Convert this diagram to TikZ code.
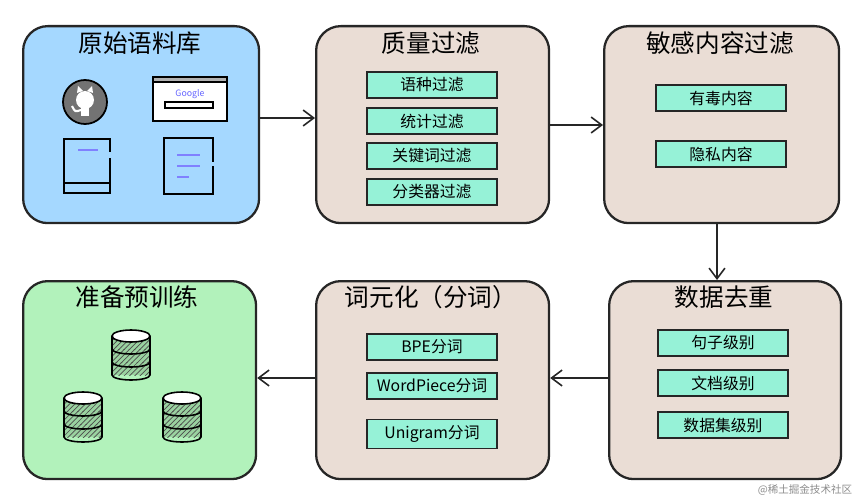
\documentclass[tikz,border=0pt]{standalone}
\usepackage{fontspec}
\setmainfont{Noto Sans CJK SC}
\usetikzlibrary{positioning, arrows.meta, patterns, calc}
\definecolor{srcBlue}{RGB}{165, 216, 255}
\definecolor{stepBeige}{RGB}{234, 221, 213}
\definecolor{doneGreen}{RGB}{178, 242, 187}
\definecolor{itemTeal}{RGB}{150, 242, 215}
\definecolor{dbGreen}{RGB}{110, 190, 120}

\tikzset{
    stage/.style={draw=black!85, line width=1.3pt, rounded corners=14pt, anchor=north west},
    title/.style={font=\fontsize{14}{16}\selectfont, anchor=center},
    item/.style={draw=black!85, line width=0.9pt, fill=itemTeal, minimum width=2.6cm, minimum height=0.52cm, font=\fontsize{9}{10}\selectfont},
    flow/.style={-{Straight Barb[length=6pt,width=9pt]}, line width=0.9pt, black!85}
}
% a stack of three discs, #1 is the centre of its top
\newcommand{\dbstack}[1]{%
    \foreach \k in {2,1,0} {
        \fill[dbGreen!70] ($(#1)+(-19,13*\k)$) rectangle ($(#1)+(19,13*\k+13)$);
        \fill[pattern=north east lines, pattern color=black!70] ($(#1)+(-19,13*\k)$) rectangle ($(#1)+(19,13*\k+13)$);
        \draw[line width=0.9pt] ($(#1)+(-19,13*\k)$) -- ++(0,13) arc[start angle=180,end angle=360,x radius=19,y radius=-5] -- ++(0,-13);
    }
    \draw[line width=0.9pt, fill=white] (#1) ellipse[x radius=19, y radius=6];
}

\begin{document}
\begin{tikzpicture}[x=0.02cm, y=-0.02cm]
    \useasboundingbox (0,0) rectangle (859,500);

    % stage boxes
    \node[stage, fill=srcBlue, minimum width=4.72cm, minimum height=3.94cm] (corpus) at (22,25) {};
    \node[stage, fill=stepBeige, minimum width=4.66cm, minimum height=3.94cm] (quality) at (315,25) {};
    \node[stage, fill=stepBeige, minimum width=4.7cm, minimum height=3.94cm] (safety) at (603,25) {};
    \node[stage, fill=doneGreen, minimum width=4.66cm, minimum height=3.96cm] (pretrain) at (22,280) {};
    \node[stage, fill=stepBeige, minimum width=4.66cm, minimum height=3.96cm] (token) at (315,280) {};
    \node[stage, fill=stepBeige, minimum width=4.64cm, minimum height=3.96cm] (dedup) at (608,280) {};

    % titles
    \node[title] at (140,43) {原始语料库};
    \node[title] at (431,43) {质量过滤};
    \node[title] at (720,43) {敏感内容过滤};
    \node[title] at (137,297) {准备预训练};
    \node[title] at (431,297) {词元化（分词）};
    \node[title] at (724,297) {数据去重};

    % items
    \node[item] (lang) at (432,85) {语种过滤};
    \node[item] (stat) at (432,121) {统计过滤};
    \node[item] (kw) at (432,156) {关键词过滤};
    \node[item] (clf) at (432,192) {分类器过滤};
    \node[item] (toxic) at (721,98) {有毒内容};
    \node[item] (priv) at (721,154) {隐私内容};
    \node[item] (bpe) at (432,347) {BPE分词};
    \node[item] (wp) at (432,386) {WordPiece分词};
    \node[item] (uni) at (432,434) {Unigram分词};
    \node[item] (sent) at (723,343) {句子级别};
    \node[item] (doc) at (723,383) {文档级别};
    \node[item] (set) at (723,425) {数据集级别};

    % icons of the corpus
    \draw[line width=1pt, fill=black!55] (85,102) circle (22);
    \fill[white] (85,100) circle (9);
    \fill[white] (77,93) -- (78,86) -- (83,91) -- cycle;
    \fill[white] (93,93) -- (92,86) -- (87,91) -- cycle;
    \fill[white] (81,106) rectangle (89,116);
    \draw[white, line width=1.2pt] (81,110) .. controls (75,112) .. (72,106);
    \draw[line width=0.8pt, fill=white] (153,77) rectangle (227,121);
    \draw[line width=0.8pt, fill=black!30] (153,77) rectangle (227,82);
    \node[font=\fontsize{5}{5}\selectfont, text=blue!60] at (190,94) {Google};
    \draw[line width=0.6pt] (165,102) rectangle (213,108);
    \draw[line width=1pt] (110,152) -- (110,139) -- (64,139) -- (64,193) -- (110,193) -- (110,158);
    \draw[line width=1pt] (64,183) -- (110,183);
    \draw[line width=1pt, blue!50] (78,150) -- (98,150);
    \draw[line width=1pt] (213,162) -- (213,138) -- (164,138) -- (164,194) -- (213,194) -- (213,166);
    \draw[line width=1pt, blue!50] (177,155) -- (200,155) (177,166) -- (200,166) (177,177) -- (189,177);

    % databases
    \coordinate (dbtop) at (131,336);
    \coordinate (dbleft) at (83,398);
    \coordinate (dbright) at (182,398);
    \dbstack{dbtop}
    \dbstack{dbleft}
    \dbstack{dbright}

    % flow
    \draw[flow] (corpus.east |- 0,118) -- (quality.west |- 0,118);
    \draw[flow] (quality.east |- 0,125) -- (safety.west |- 0,125);
    \draw[flow] (safety.south -| 717,0) -- (dedup.north -| 717,0);
    \draw[flow] (dedup.west |- 0,378) -- (token.east |- 0,378);
    \draw[flow] (token.west |- 0,378) -- (pretrain.east |- 0,378);

    \node[font=\fontsize{6}{7}\selectfont, text=black!45] (mark) at (805,490) {@稀土掘金技术社区};
\end{tikzpicture}
\end{document}
